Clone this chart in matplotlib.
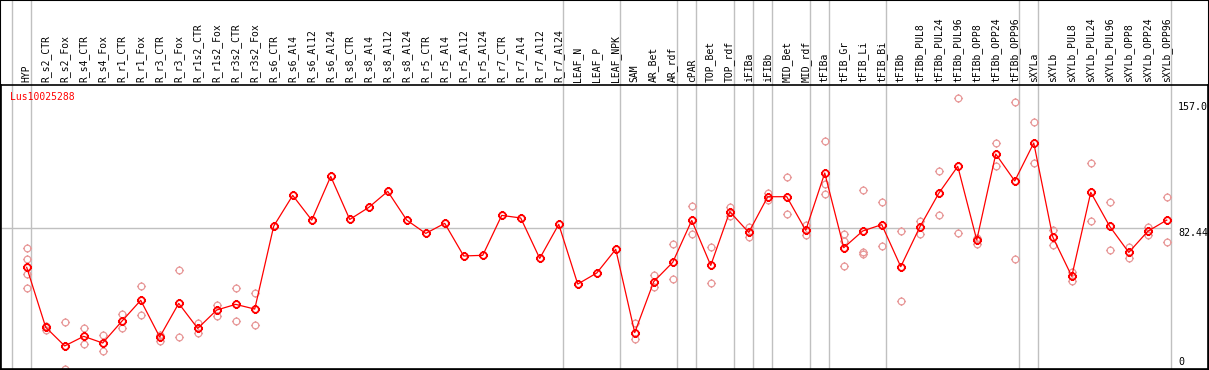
import matplotlib
matplotlib.use('Agg')
import numpy as np
from matplotlib import pyplot as plt
from matplotlib.path import Path

# Данные
gene = 'Lus10025288'
categories = ['HYP', 'R_s2_CTR', 'R_s2_Fox', 'R_s4_CTR', 'R_s4_Fox', 'R_r1_CTR', 'R_r1_Fox',
              'R_r3_CTR', 'R_r3_Fox', 'R_r1s2_CTR', 'R_r1s2_Fox', 'R_r3s2_CTR', 'R_r3s2_Fox',
              'R_s6_CTR', 'R_s6_Al4', 'R_s6_Al12', 'R_s6_Al24', 'R_s8_CTR', 'R_s8_Al4',
              'R_s8_Al12', 'R_s8_Al24', 'R_r5_CTR', 'R_r5_Al4', 'R_r5_Al12', 'R_r5_Al24',
              'R_r7_CTR', 'R_r7_Al4', 'R_r7_Al12', 'R_r7_Al24', 'LEAF_N', 'LEAF_P', 'LEAF_NPK',
              'SAM', 'AR_Bet', 'AR_rdf', 'cPAR', 'TOP_Bet', 'TOP_rdf', 'iFIBa', 'iFIBb',
              'MID_Bet', 'MID_rdf', 'tFIBa', 'tFIB_Gr', 'tFIB_Li', 'tFIB_Bi', 'tFIBb',
              'tFIBb_PUL8', 'tFIBb_PUL24', 'tFIBb_PUL96', 'tFIBb_OPP8', 'tFIBb_OPP24',
              'tFIBb_OPP96', 'sXYLa', 'sXYLb', 'sXYLb_PUL8', 'sXYLb_PUL24', 'sXYLb_PUL96',
              'sXYLb_OPP8', 'sXYLb_OPP24', 'sXYLb_OPP96']

means = [58.3, 21.4, 9.9, 15.8, 11.7, 25.0, 38.0, 15.4, 36.1, 20.7, 32.0, 35.5, 32.6,
         83.7, 102.6, 87.4, 114.3, 87.8, 95.2, 105.1, 87.4, 79.2, 85.4, 65.3, 65.7,
         90.3, 88.7, 63.8, 84.8, 48.0, 54.8, 69.4,
         18.1, 49.5, 61.4, 87.2, 59.5, 92.6, 79.8, 101.8, 101.8, 81.1, 116.4, 70.4,
         80.7, 84.6, 58.7, 83.1, 103.9, 120.5, 75.1, 128.1, 111.5, 134.9, 77.0, 52.8,
         104.5, 83.5, 67.5, 80.5, 87.4]

replicates = [[70.2, 63.5, 54.2, 45.4], [22.4, 19.7], [24.6, -4.1], [20.9, 10.9],
              [16.4, 6.8], [29.6, 20.7], [46.6, 28.8], [16.6, 13.1], [56.5, 15.2],
              [23.8, 17.7], [35.1, 28.5], [45.4, 25.0], [42.3, 22.6],
              [], [], [], [], [], [], [], [], [], [], [], [], [], [], [], [], [], [], [],
              [23.8, 14.0], [53.6, 46.4], [72.7, 50.9], [95.9, 78.6], [70.6, 48.6],
              [95.6, 89.9], [82.9, 77.2], [104.3, 99.8], [113.7, 90.9], [84.4, 78.2],
              [136.1, 109.4, 103.3], [78.6, 74.5, 58.9], [105.9, 67.9, 66.5],
              [98.5, 71.4], [80.7, 37.6], [86.8, 79.0], [117.4, 90.3], [162.4, 79.2],
              [76.1, 72.7], [134.6, 120.7], [159.9, 63.2], [147.6, 122.3], [81.3, 71.9],
              [55.6, 50.1], [122.3, 86.8], [98.3, 68.8], [71.0, 64.2], [82.9, 78.2],
              [101.4, 73.7]]

# последний образец каждой группы
group_ends = ['HYP', 'R_r7_Al24', 'LEAF_NPK', 'AR_rdf', 'cPAR', 'TOP_rdf', 'iFIBa', 'iFIBb',
              'MID_rdf', 'tFIBa', 'tFIB_Bi', 'tFIBb_OPP96', 'sXYLa', 'sXYLb_OPP96']

y_marks = [157.0, 82.44, 0]
y_mark_labels = ['157.0', '82.44', '0']

# маркер: кружок с короткими засечками
circle = Path.unit_circle()
ticks = Path([[0, 1], [0, 1.35], [0, -1], [0, -1.35], [1, 0], [1.35, 0], [-1, 0], [-1.35, 0]],
             [Path.MOVETO, Path.LINETO] * 4)
marker_path = Path.make_compound_path(circle, ticks)

x = np.arange(len(categories))

fig = plt.figure(figsize=(12.09, 3.70), dpi=100)
ax = fig.add_axes([1 / 1209, 1 / 370, 1207 / 1209, 284 / 370])
ax.set_xlim(-1.353, 62.17)
ax.set_ylim(-4.31, 170.6)

grey = '#c0c0c0'
breaks = [-1] + [categories.index(n) for n in group_ends]
for b in breaks:
    ax.axvline(b + 0.2, ymin=0, ymax=1 + 85 / 284, clip_on=False, color=grey, lw=1, zorder=1)
ax.hlines(y_marks[1], ax.get_xlim()[0], breaks[-1] + 0.2, color=grey, lw=1, zorder=1)

# повторности
for i, vals in enumerate(replicates):
    if vals:
        ax.plot([x[i]] * len(vals), vals, linestyle='none', marker=marker_path, markersize=6.5,
                mfc='none', mec='#e89a9a', mew=0.9, zorder=2)

# средние
ax.plot(x, means, color='red', lw=0.9, marker=marker_path, markersize=6.5,
        mfc='none', mec='red', mew=1.3, zorder=3)

ax.set_xticks(x)
ax.set_xticklabels(categories, rotation=90, family='DejaVu Sans Mono', fontsize=7)
ax.xaxis.tick_top()
ax.tick_params(axis='x', length=0, pad=2)
ax.set_yticks([])

for v, lab in zip(y_marks, y_mark_labels):
    ax.text(60.6, v, lab, va='top' if lab == '82.44' else 'center', ha='left',
            family='DejaVu Sans Mono', fontsize=7.2, clip_on=False)

ax.text(0.0075, 0.958, gene, transform=ax.transAxes, color='red', va='center', ha='left',
        family='DejaVu Sans Mono', fontsize=7)

for s in ax.spines.values():
    s.set_color('black')
    s.set_linewidth(1.2)

fig.patches.append(plt.Rectangle((0, 0), 1, 1, transform=fig.transFigure, fill=False,
                                 ec='black', lw=1.5))

fig.savefig('out.png', dpi=100)
